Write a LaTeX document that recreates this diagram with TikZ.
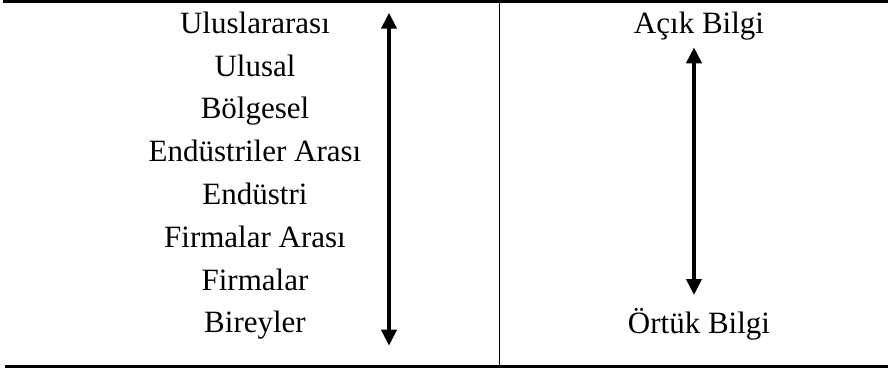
\documentclass[tikz,border=0pt]{standalone}
\usepackage{fontspec}
\setmainfont{Liberation Serif}
\usetikzlibrary{arrows.meta}
\begin{document}
\begin{tikzpicture}[x=1pt,y=-1pt,
  lbl/.style={anchor=base,inner sep=0pt,font=\fontsize{31}{36}\selectfont},
  rule/.style={line width=2.7pt},
  divider/.style={line width=1.8pt},
  dblarrow/.style={line width=3.8pt,{Triangle[width=15pt,length=16pt]}-{Triangle[width=15pt,length=16pt]}}]
\useasboundingbox (0,0) rectangle (888,371);
% rules
\coordinate (tl) at (3,1.6);
\coordinate (tr) at (888,1.6);
\coordinate (bl) at (5,366.5);
\coordinate (br) at (888,366.5);
\coordinate (dt) at (499.5,1.6);
\coordinate (db) at (499.5,366.5);
\draw[rule] (tl) -- (tr);
\draw[rule] (bl) -- (br);
\draw[divider] (dt) -- (db);
% left column
\node[lbl] (n1) at (255,33.3) {Uluslararası};
\node[lbl] (n2) at (255,76.1) {Ulusal};
\node[lbl] (n3) at (255,118.9) {Bölgesel};
\node[lbl] (n4) at (255,161.7) {Endüstriler Arası};
\node[lbl] (n5) at (255,204.5) {Endüstri};
\node[lbl] (n6) at (255,247.3) {Firmalar Arası};
\node[lbl] (n7) at (255,290.1) {Firmalar};
\node[lbl] (n8) at (255,332.9) {Bireyler};
\coordinate (la1) at (389,12.7);
\coordinate (la2) at (389,345.7);
\draw[dblarrow] (la1) -- (la2);
% right column
\node[lbl] (r1) at (699,33.3) {Açık Bilgi};
\node[lbl] (r2) at (699,333.5) {Örtük Bilgi};
\coordinate (ra1) at (694,47.3);
\coordinate (ra2) at (694,295);
\draw[dblarrow] (ra1) -- (ra2);
\end{tikzpicture}
\end{document}
